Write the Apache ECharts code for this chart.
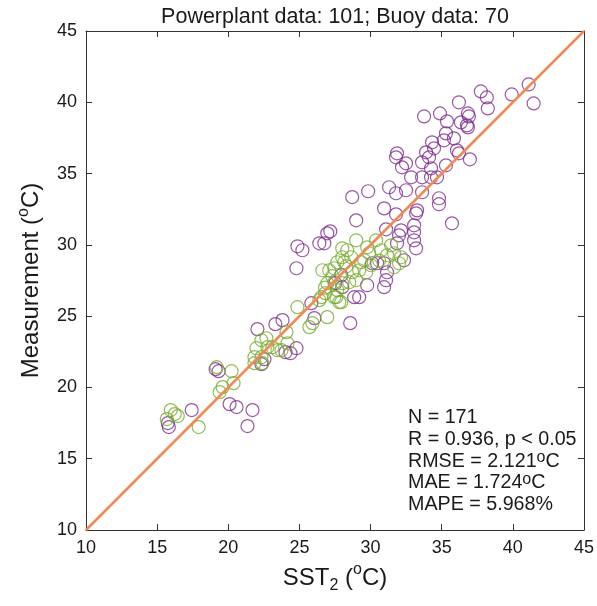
<!DOCTYPE html>
<html>
<head>
<meta charset="utf-8">
<script src="https://cdn.jsdelivr.net/npm/echarts@6/dist/echarts.min.js"></script>
<style>html,body{margin:0;padding:0;background:#fff}#c{width:597px;height:606px}</style>
</head>
<body>
<div id="c"></div>
<script>
// Axis ticks
var xTicks = [10, 15, 20, 25, 30, 35, 40, 45];
var yTicks = [10, 15, 20, 25, 30, 35, 40, 45];
var titleText = 'Powerplant data: 101; Buoy data: 70';
var statLines = ['N = 171', 'R = 0.936, p < 0.05', 'RMSE = 2.121', 'MAE = 1.724', 'MAPE = 5.968%'];

// Powerplant (purple)
var powerX = [15.75,15.82,17.43,19.11,19.32,20.09,20.58,21.70,21.35,22.05,
23.31,23.81,24.79,24.37,22.54,22.33,24.02,24.86,25.21,26.40,
26.96,27.17,24.79,27.94,25.84,26.05,28.57,28.85,29.20,29.76,
30.95,31.09,31.16,30.11,30.46,30.95,32.35,32.00,33.06,31.86,
33.06,33.20,33.06,32.14,31.09,28.99,27.52,28.01,35.72,34.81,
33.27,33.20,31.79,30.95,28.71,29.83,31.30,31.79,32.49,33.62,
34.81,32.85,33.62,34.25,34.67,32.21,32.49,31.86,31.79,33.62,
34.25,35.30,33.90,34.11,34.32,34.46,35.16,35.30,35.86,36.07,
36.21,36.98,33.76,34.88,35.37,36.35,36.84,36.77,36.91,36.84,
36.21,37.75,38.17,38.24,39.92,41.11,41.46,26.75];
var powerY = [17.50,17.22,18.41,21.28,21.14,18.83,18.62,18.41,17.29,24.09,
24.44,24.72,22.75,22.40,21.98,21.63,22.47,29.90,29.62,30.11,
30.81,30.95,28.36,27.87,25.91,24.86,24.51,26.33,26.33,27.17,
27.03,27.52,28.08,28.71,28.71,28.71,28.92,30.67,30.88,30.11,
30.32,29.76,31.37,31.02,31.09,31.72,27.31,27.03,31.51,32.85,
32.42,32.21,32.14,32.56,33.35,33.76,34.04,33.62,33.83,33.69,
33.27,34.74,34.74,34.74,34.74,35.44,35.72,36.42,36.14,35.79,
35.37,35.58,36.49,36.14,37.19,36.77,37.33,37.82,37.47,36.63,
36.42,36.00,39.01,39.22,38.66,38.59,39.22,38.38,39.01,38.24,
40.00,40.76,40.34,39.57,40.55,41.25,39.92,30.11];

// Buoy (green)
var buoyX = [15.96,16.24,15.68,16.45,17.92,19.18,20.23,20.37,19.60,19.39,
21.84,21.84,22.40,22.33,21.98,22.68,23.10,23.74,24.09,25.70,
24.86,26.96,26.54,26.82,27.59,27.80,26.96,27.45,27.31,26.61,
27.10,28.01,28.99,28.36,28.01,28.64,30.39,29.90,29.55,31.16,
31.65,32.00,29.20,28.71,29.69,27.45,28.01,28.50,27.45,27.94,
22.75,23.45,32.14,27.66,30.74,29.76,31.65,25.91,28.15,27.66,
29.34,28.99,26.40,24.16,22.33,30.04,31.44,28.30,30.60,26.80];
var buoyY = [18.41,18.13,17.78,17.99,17.22,21.42,21.14,20.30,20.02,19.67,
22.12,21.70,21.70,22.12,22.75,23.45,22.82,22.61,23.88,24.23,
25.63,24.93,26.33,26.61,26.33,25.98,27.31,27.38,27.80,28.22,
28.22,29.76,30.32,29.62,29.13,29.13,30.32,29.41,28.92,29.27,
29.41,28.71,28.22,28.08,28.08,28.36,27.31,27.38,26.33,25.98,
22.82,22.61,29.13,26.82,29.62,29.83,28.43,24.51,28.78,28.78,
28.78,27.52,26.12,23.10,23.31,28.57,29.97,28.50,28.90,27.00];

var refLine = [[10, 10], [45, 45]];

function pairs(xs, ys) { return xs.map(function (v, i) { return [v, ys[i]]; }); }

var FONT = 'Liberation Sans, Arial, Helvetica, sans-serif';
var TXT = '#1a1a1a';
var AX = '#333333';

var chart = echarts.init(document.getElementById('c'), null, { renderer: 'canvas' });

function axisCommon(extra) {
  var a = {
    type: 'value', min: 10, max: 45, interval: 5,
    axisLine: { show: true, onZero: false, lineStyle: { color: AX, width: 1 } },
    axisTick: { show: true, inside: true, length: 6, lineStyle: { color: AX, width: 1 } },
    splitLine: { show: false },
    axisLabel: { show: false }
  };
  for (var k in extra) a[k] = extra[k];
  return a;
}

var option = {
  animation: false,
  backgroundColor: '#fff',
  grid: { left: 86, right: 12, top: 31, bottom: 76, containLabel: false },
  xAxis: [
    axisCommon({
      position: 'bottom',
      axisLabel: { show: true, fontFamily: FONT, fontSize: 18, color: TXT, margin: 9 },
      name: '{n|SST}{sub|2}{n| (}{sup|o}{n|C)}',
      nameLocation: 'middle', nameGap: 32,
      nameTextStyle: {
        fontFamily: FONT, color: TXT, lineHeight: 32,
        rich: {
          n: { fontFamily: FONT, fontSize: 24, color: TXT, lineHeight: 32 },
          sub: { fontFamily: FONT, fontSize: 16, color: TXT, verticalAlign: 'bottom', lineHeight: 14 },
          sup: { fontFamily: FONT, fontSize: 16, color: TXT, verticalAlign: 'top', lineHeight: 14 }
        }
      }
    }),
    axisCommon({ position: 'top' })
  ],
  yAxis: [
    axisCommon({
      position: 'left',
      axisLabel: { show: true, fontFamily: FONT, fontSize: 18, color: TXT, margin: 9 },
      name: '{n|Measurement (}{sup|o}{n|C)}',
      nameLocation: 'middle', nameGap: 33,
      nameTextStyle: {
        fontFamily: FONT, color: TXT, lineHeight: 30,
        rich: {
          n: { fontFamily: FONT, fontSize: 24, color: TXT, lineHeight: 30 },
          sup: { fontFamily: FONT, fontSize: 16, color: TXT, verticalAlign: 'top', lineHeight: 14 }
        }
      }
    }),
    axisCommon({ position: 'right' })
  ],
  graphic: [
    {
      type: 'text', x: 335, y: 17, z: 10,
      style: { text: titleText, fontFamily: FONT, fontSize: 21.5, fill: TXT, align: 'center', verticalAlign: 'middle' }
    },
    {
      type: 'text', x: 408, y: 406, z: 10,
      style: {
        text: '{n|' + statLines[0] + '}\n{n|' + statLines[1] + '}\n{n|' + statLines[2] + '}{s|o}{n|C}\n{n|' + statLines[3] + '}{s|o}{n|C}\n{n|' + statLines[4] + '}',
        fontFamily: FONT, fill: TXT, align: 'left', verticalAlign: 'top',
        rich: {
          n: { fontFamily: FONT, fontSize: 19.7, fill: TXT, lineHeight: 21.7, verticalAlign: 'bottom' },
          s: { fontFamily: FONT, fontSize: 16, fill: TXT, lineHeight: 8, verticalAlign: 'top' }
        }
      }
    }
  ],
  series: [
    {
      type: 'scatter', name: 'Powerplant', data: pairs(powerX, powerY),
      symbol: 'circle', symbolSize: 13, z: 2,
      itemStyle: { color: 'rgba(0,0,0,0)', borderColor: '#7E2F8E', borderWidth: 1.2 }
    },
    {
      type: 'scatter', name: 'Buoy', data: pairs(buoyX, buoyY),
      symbol: 'circle', symbolSize: 13, z: 3,
      itemStyle: { color: 'rgba(0,0,0,0)', borderColor: '#77AC30', borderWidth: 1.2 }
    },
    {
      type: 'line', data: refLine, showSymbol: false, symbol: 'none', z: 4,
      lineStyle: { color: '#EE8A55', width: 2.5 }
    }
  ]
};
chart.setOption(option);
</script>
</body>
</html>
